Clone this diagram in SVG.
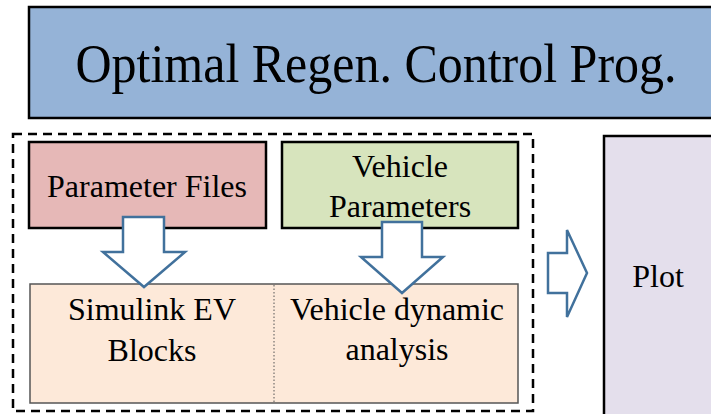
<svg xmlns="http://www.w3.org/2000/svg" width="711" height="414" viewBox="0 0 711 414">
<style>
.box{stroke:#000;stroke-width:2.5}
.arr{fill:#fff;stroke:#41719c;stroke-width:2.5;stroke-linejoin:miter}
</style>
<rect x="0" y="0" width="711" height="414" fill="#fff"/>
<g font-family="Liberation Serif, Tinos, DejaVu Serif, serif" text-anchor="middle" fill="#000">
<g id="title">
<rect class="box" x="29" y="7" width="700" height="111" fill="#95b3d7"/>
<text x="376" y="82" font-size="54" textLength="601" lengthAdjust="spacingAndGlyphs">Optimal Regen. Control Prog.</text>
</g>
<g id="group">
<rect x="13" y="134" width="520" height="277" fill="none" stroke="#000" stroke-width="2.5" stroke-dasharray="9,6"/>
</g>
<g id="param-files">
<rect class="box" x="29" y="142" width="237" height="86" fill="#e6b8b7"/>
<text x="147" y="197" font-size="32">Parameter Files</text>
</g>
<g id="vehicle-params">
<rect class="box" x="282" y="142" width="236" height="86" fill="#d7e4bd"/>
<text x="400" y="177" font-size="32">Vehicle</text>
<text x="400" y="217" font-size="32">Parameters</text>
</g>
<g id="sim-box">
<rect x="30" y="284" width="488" height="119" fill="#fde9d9" stroke="#555" stroke-width="1.5"/>
<line x1="274" y1="285" x2="274" y2="402" stroke="#555" stroke-width="1" stroke-dasharray="1.5,2"/>
</g>
<g id="simulink">
<text x="152" y="320" font-size="32">Simulink EV</text>
<text x="152" y="361" font-size="32">Blocks</text>
</g>
<g id="vehicle-dyn">
<text x="397" y="320" font-size="32">Vehicle dynamic</text>
<text x="397" y="360" font-size="32">analysis</text>
</g>
<g id="plot">
<rect class="box" x="604" y="136" width="120" height="290" fill="#e4dfec"/>
<text x="658" y="287" font-size="32">Plot</text>
</g>
</g>
<g id="connectors">
<polygon class="arr" points="123,217 164,217 164,252 185,252 144,287 103,252 123,252"/>
<polygon class="arr" points="382,222 422,222 422,257 443,257 402,293 361,257 382,257"/>
<polygon class="arr" points="548,253 567,253 567,230 587,273 567,317 567,293 548,293"/>
</g>
</svg>
